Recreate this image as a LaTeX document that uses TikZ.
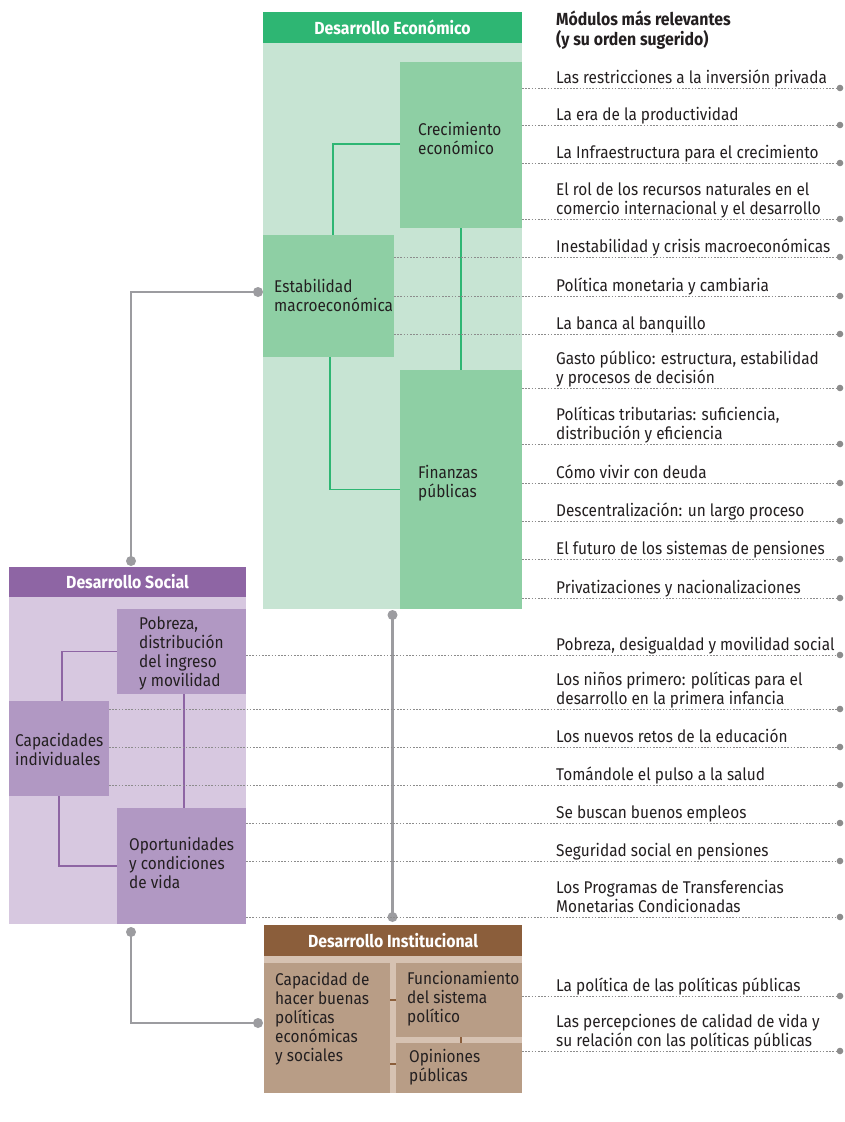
\documentclass[tikz,border=0pt]{standalone}
\usepackage{fontspec}
\setmainfont{Fira Sans}[FakeStretch=0.905]
\definecolor{econD}{HTML}{2EB673}
\definecolor{econBg}{HTML}{C7E4D3}
\definecolor{econBox}{HTML}{8ECFA4}
\definecolor{socD}{HTML}{8E65A4}
\definecolor{socBg}{HTML}{D7C8E0}
\definecolor{socBox}{HTML}{B198C3}
\definecolor{instD}{HTML}{8B5E3B}
\definecolor{instBg}{HTML}{D6C2B2}
\definecolor{instBox}{HTML}{B89D86}
\definecolor{grayc}{HTML}{9C9CA0}
\definecolor{dotc}{HTML}{8C8C8C}
\definecolor{txtc}{HTML}{231F20}
\newcommand\itf{\fontsize{17}{19}\selectfont}
\newcommand\bxf{\fontsize{17}{19}\selectfont}
\newcommand\hdf{\fontsize{17.5}{19.5}\selectfont\bfseries}
\newcommand\lstrut{\rule[-5pt]{0pt}{5pt}}
\tikzset{
  blk/.style={anchor=north west, inner sep=0, outer sep=0, draw=none},
  ttl/.style={blk, text=white, font=\hdf},
  btxt/.style={anchor=west, inner sep=0, align=left, font=\bxf, text=txtc},
  modt/.style={anchor=south west, inner sep=0, align=left, font=\itf, text=txtc},
  dotl/.style={draw=dotc, line width=0.8pt, dash pattern=on 1.6pt off 1.6pt},
  gconn/.style={draw=grayc, line width=2.5pt},
  econl/.style={draw=econD, line width=1.8pt},
  socl/.style={draw=socD, line width=1.8pt},
  instl/.style={draw=instD, line width=2pt},
}
\newcommand\modl[4]{%
  \coordinate (#1e) at (840,#2);
  \coordinate (#1s) at (#3.east |- #1e);
  \draw[dotl] (#1s) -- (#1e);
  \fill[dotc] (#1e) circle[radius=3.3];
  \node[modt] (#1) at (556,#2+1) {#4\lstrut};
}
\begin{document}
\begin{tikzpicture}[x=1pt,y=-1pt]
\useasboundingbox[fill=white] (0,0) rectangle (844,1122);

% Economic panel
\node[ttl, fill=econD, minimum width=259, minimum height=31] (econT) at (263,12) {Desarrollo Económico};
\node[blk, fill=econBg, minimum width=259, minimum height=566] (econP) at (263,43) {};
\node[blk, fill=econBox, minimum width=122, minimum height=166] (crec) at (400,62) {};
\node[blk, fill=econBox, minimum width=131, minimum height=122] (estab) at (263,235) {};
\node[blk, fill=econBox, minimum width=122, minimum height=239] (fin) at (400,370) {};
\draw[econl] ([yshift=1]crec.west) -| ([xshift=4.5]estab.north);
\draw[econl] ([xshift=1.5]estab.south) |- (fin.west);
\draw[econl] (crec.south) -- (fin.north);
\node[btxt] (crecT) at (418,138) {Crecimiento\\económico};
\node[btxt] (estabT) at (274,295) {Estabilidad\\macroeconómica};
\node[btxt] (finT) at (418,483) {Finanzas\\públicas};

% Social panel
\node[ttl, fill=socD, minimum width=237, minimum height=30] (socT) at (9,567) {Desarrollo Social};
\node[blk, fill=socBg, minimum width=237, minimum height=327] (socP) at (9,597) {};
\node[blk, fill=socBox, minimum width=129, minimum height=85] (pob) at (117,609) {};
\node[blk, fill=socBox, minimum width=100, minimum height=95] (capac) at (9,701) {};
\node[blk, fill=socBox, minimum width=129, minimum height=116] (oport) at (117,808) {};
\draw[socl] (pob.west) -| ([xshift=3]capac.north);
\draw[socl] (capac.south) |- (oport.west);
\draw[socl] ([xshift=2.5]pob.south) -- ([xshift=2.5]oport.north);
\node[btxt] (pobT) at (139,653) {Pobreza,\\distribución\\del ingreso\\y movilidad};
\node[btxt] (capacT) at (15,749.5) {Capacidades\\individuales};
\node[btxt] (oportT) at (129,863) {Oportunidades\\y condiciones\\de vida};

% Institutional panel
\node[ttl, fill=instD, minimum width=258, minimum height=31] (instT) at (264,925) {Desarrollo Institucional};
\node[blk, fill=instBg, minimum width=258, minimum height=137] (instP) at (264,956) {};
\node[blk, fill=instBox, minimum width=126, minimum height=130] (capd) at (264,963) {};
\node[blk, fill=instBox, minimum width=126, minimum height=74] (func) at (396,963) {};
\node[blk, fill=instBox, minimum width=126, minimum height=50] (opin) at (396,1043) {};
\draw[instl] (func.west) -- (func.west -| capd.east);
\draw[instl] ([yshift=4]opin.west) -- ([yshift=4]opin.west -| capd.east);
\draw[instl] ([xshift=2]func.south) -- ([xshift=2]opin.north);
\node[btxt] (capdT) at (275,1018.5) {Capacidad de\\hacer buenas\\políticas\\económicas\\y sociales};
\node[btxt] (funcT) at (407,999) {Funcionamiento\\del sistema\\político};
\node[btxt] (opinT) at (409,1067.5) {Opiniones\\públicas};

% Gray connectors between areas
\coordinate (gA) at ([xshift=3.5,yshift=6]socT.north);
\coordinate (gB) at ([xshift=-5,yshift=4]estab.west);
\draw[gconn] (gA) |- (gB);
\fill[grayc] (gA) circle[radius=5];
\fill[grayc] (gB) circle[radius=5];
\coordinate (gC) at ([yshift=-6]econP.south);
\coordinate (gD) at ([yshift=8]instT.north);
\draw[gconn] (gC) -- (gC |- gD);
\fill[grayc] (gC) circle[radius=5];
\fill[grayc] (gC |- gD) circle[radius=5];
\coordinate (gE) at ([xshift=3.5,yshift=-8]socP.south);
\coordinate (gF) at ([xshift=-6,yshift=5]capd.west);
\draw[gconn] (gE) |- (gF);
\fill[grayc] (gE) circle[radius=5];
\fill[grayc] (gF) circle[radius=5];

% Heading
\node[anchor=north west, inner sep=0, align=left, font=\hdf, text=txtc] (head) at (556,11) {Módulos más relevantes\\(y su orden sugerido)};

% Modules
\modl{m1}{88}{crec}{Las restricciones a la inversión privada}
\modl{m2}{125}{crec}{La era de la productividad}
\modl{m3}{163}{crec}{La Infraestructura para el crecimiento}
\modl{m4}{219}{crec}{El rol de los recursos naturales en el\\comercio internacional y el desarrollo}
\modl{m5}{257}{estab}{Inestabilidad y crisis macroeconómicas}
\modl{m6}{296}{estab}{Política monetaria y cambiaria}
\modl{m7}{334}{estab}{La banca al banquillo}
\modl{m8}{388}{fin}{Gasto público: estructura, estabilidad\\y procesos de decisión}
\modl{m9}{444}{fin}{Políticas tributarias: suficiencia,\\distribución y eficiencia}
\modl{m10}{483}{fin}{Cómo vivir con deuda}
\modl{m11}{521}{fin}{Descentralización: un largo proceso}
\modl{m12}{559}{fin}{El futuro de los sistemas de pensiones}
\modl{m13}{598}{fin}{Privatizaciones y nacionalizaciones}
\modl{m14}{655}{pob}{Pobreza, desigualdad y movilidad social}
\modl{m15}{709}{capac}{Los niños primero: políticas para el\\desarrollo en la primera infancia}
\modl{m16}{747}{capac}{Los nuevos retos de la educación}
\modl{m17}{785}{capac}{Tomándole el pulso a la salud}
\modl{m18}{823}{oport}{Se buscan buenos empleos}
\modl{m19}{861}{oport}{Seguridad social en pensiones}
\modl{m20}{917}{oport}{Los Programas de Transferencias\\Monetarias Condicionadas}
\modl{m21}{996}{func}{La política de las políticas públicas}
\modl{m22}{1051}{opin}{Las percepciones de calidad de vida y\\su relación con las políticas públicas}
\end{tikzpicture}
\end{document}
